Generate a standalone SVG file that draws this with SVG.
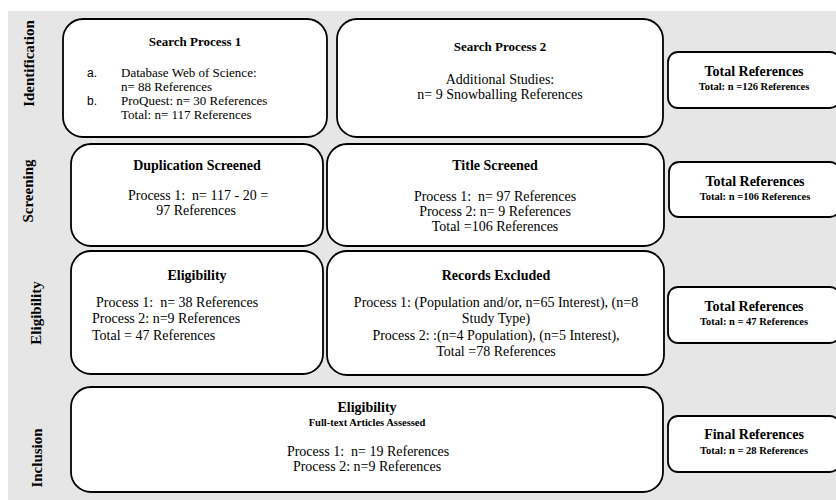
<svg xmlns="http://www.w3.org/2000/svg" width="836" height="500" viewBox="0 0 836 500">
<style>
.bg{fill:#e6e6e6}
.box{fill:#ffffff;stroke:#000000;stroke-width:1.8}
text{font-family:"Liberation Serif","Times New Roman",serif;fill:#000000}
.lane{font-size:15px;font-weight:bold;text-anchor:middle}
.t13{font-size:13px;font-weight:bold;text-anchor:middle}
.t14{font-size:14px;font-weight:bold;text-anchor:middle}
.sub{font-size:10.5px;font-weight:bold;text-anchor:middle}
.b13{font-size:13px}
.b14{font-size:14px}
.c{text-anchor:middle}
.sans{font-family:"Liberation Sans",Arial,sans-serif;font-size:12px}
</style>
<rect class="bg" x="8" y="11" width="828" height="489"/>
<g id="lanes">
<text class="lane" transform="translate(34,63.5) rotate(-90)">Identification</text>
<text class="lane" transform="translate(33,191) rotate(-90)">Screening</text>
<text class="lane" transform="translate(41,313) rotate(-90)">Eligibility</text>
<text class="lane" transform="translate(42,458) rotate(-90)">Inclusion</text>
</g>
<g id="connectors"></g>
<g id="search1">
<rect class="box" x="63" y="19" width="264" height="118" rx="20"/>
<text class="t13" x="195" y="46">Search Process 1</text>
<text class="sans" x="87" y="77">a.</text>
<text class="b13" x="121" y="77">Database Web of Science:</text>
<text class="b13" x="121" y="91">n= 88 References</text>
<text class="sans" x="87" y="105">b.</text>
<text class="b13" x="121" y="105">ProQuest: n= 30 References</text>
<text class="b13" x="121" y="119">Total: n= 117 References</text>
</g>
<g id="search2">
<rect class="box" x="337" y="19" width="326" height="118" rx="20"/>
<text class="t13" x="500" y="51">Search Process 2</text>
<text class="b14 c" x="500" y="84">Additional Studies:</text>
<text class="b14 c" x="500" y="99">n= 9 Snowballing References</text>
</g>
<g id="total1">
<rect class="box" x="668" y="52" width="172" height="56" rx="10"/>
<text class="t14" x="754" y="76">Total References</text>
<text class="sub" x="754" y="90">Total: n =126 References</text>
</g>
<g id="duplication">
<rect class="box" x="71" y="144" width="252" height="102" rx="20"/>
<text class="t14" x="197" y="170">Duplication Screened</text>
<text class="b14 c" x="198" y="200" xml:space="preserve">Process 1:  n= 117 - 20 =</text>
<text class="b14 c" x="196" y="215">97 References</text>
</g>
<g id="title">
<rect class="box" x="327" y="144" width="337" height="102" rx="20"/>
<text class="t14" x="495" y="170">Title Screened</text>
<text class="b14 c" x="495" y="201" xml:space="preserve">Process 1:  n= 97 References</text>
<text class="b14 c" x="495" y="216">Process 2: n= 9 References</text>
<text class="b14 c" x="495" y="231">Total =106 References</text>
</g>
<g id="total2">
<rect class="box" x="669" y="162" width="171" height="55" rx="10"/>
<text class="t14" x="755" y="186">Total References</text>
<text class="sub" x="755" y="200">Total: n =106 References</text>
</g>
<g id="eligibility">
<rect class="box" x="71" y="251" width="252" height="123" rx="20"/>
<text class="t14" x="197" y="280">Eligibility</text>
<text class="b14" x="96" y="307" xml:space="preserve">Process 1:  n= 38 References</text>
<text class="b14" x="92" y="323">Process 2: n=9 References</text>
<text class="b14" x="92" y="340">Total = 47 References</text>
</g>
<g id="excluded">
<rect class="box" x="327" y="251" width="337" height="124" rx="20"/>
<text class="t14" x="496" y="280">Records Excluded</text>
<text class="b14 c" x="496" y="307">Process 1: (Population and/or, n=65 Interest), (n=8</text>
<text class="b14 c" x="496" y="323">Study Type)</text>
<text class="b14 c" x="496" y="340">Process 2: :(n=4 Population), (n=5 Interest),</text>
<text class="b14 c" x="496" y="356">Total =78 References</text>
</g>
<g id="total3">
<rect class="box" x="668" y="287" width="172" height="56" rx="10"/>
<text class="t14" x="754" y="311">Total References</text>
<text class="sub" x="754" y="325">Total: n = 47 References</text>
</g>
<g id="inclusion">
<rect class="box" x="71" y="387" width="592" height="105" rx="20"/>
<text class="t14" x="367" y="412">Eligibility</text>
<text class="sub" x="367" y="426">Full-text Articles Assessed</text>
<text class="b14 c" x="368" y="456" xml:space="preserve">Process 1:  n= 19 References</text>
<text class="b14 c" x="367" y="471">Process 2: n=9 References</text>
</g>
<g id="final">
<rect class="box" x="668" y="416" width="172" height="56" rx="10"/>
<text class="t14" x="754" y="439">Final References</text>
<text class="sub" x="754" y="454">Total: n = 28 References</text>
</g>
</svg>
